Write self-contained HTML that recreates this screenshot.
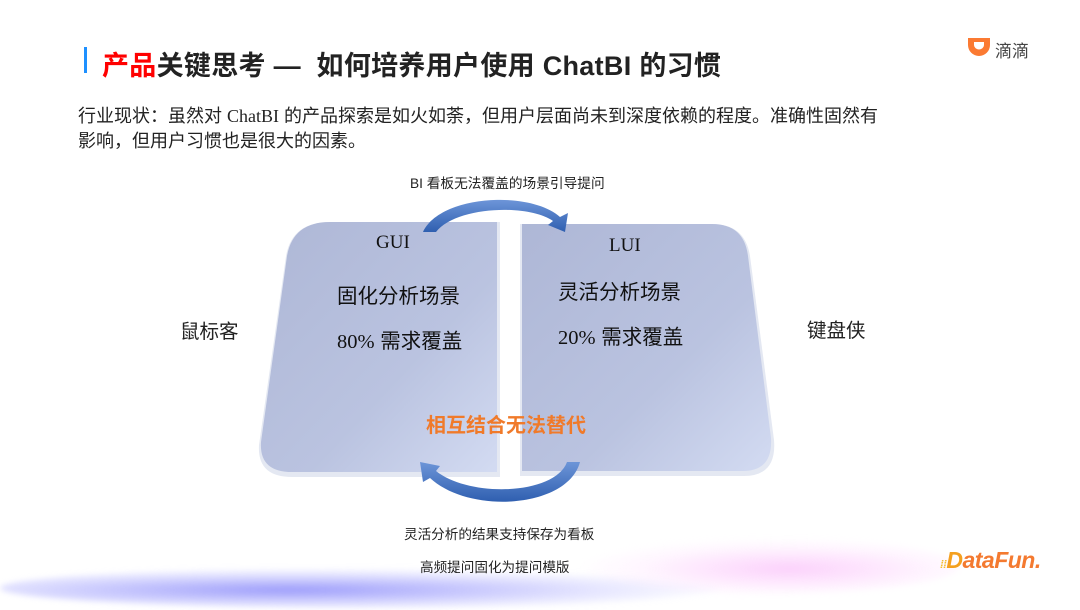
<!DOCTYPE html>
<html><head><meta charset="utf-8"><style>
html,body{margin:0;padding:0}
body{width:1080px;height:608px;position:relative;overflow:hidden;background:#fff;font-family:"Liberation Sans","Noto Sans CJK SC",sans-serif}
.t{position:absolute;white-space:nowrap}
</style></head><body>
<div style="position:absolute;left:0;top:560px;width:1080px;height:50px;">
  <div style="position:absolute;left:0;top:8px;width:720px;height:40px;border-radius:50%;background:radial-gradient(ellipse at 40% 55%,rgba(140,140,250,0.85),rgba(190,190,255,0.4) 50%,rgba(255,255,255,0) 72%);filter:blur(3px)"></div>
  <div style="position:absolute;left:580px;top:-22px;width:380px;height:56px;border-radius:50%;background:radial-gradient(ellipse at 55% 55%,rgba(250,190,250,0.7),rgba(255,225,255,0.3) 50%,rgba(255,255,255,0) 72%);filter:blur(3px)"></div>
</div>
<div style="position:absolute;left:84px;top:47px;width:3px;height:26px;background:#1e90ff"></div>
<div class="t" style="left:102px;top:44px;font-size:27px;font-weight:bold;color:#222;letter-spacing:0.3px"><span style="color:#f00">产品</span>关键思考 —&nbsp; 如何培养用户使用 ChatBI 的习惯</div>
<div class="t" style="left:78px;top:104px;font-size:18px;color:#222;line-height:25px">行业现状：虽然对 <span style="font-family:'Liberation Serif',serif">ChatBI</span> 的产品探索是如火如荼，但用户层面尚未到深度依赖的程度。准确性固然有<br>影响，但用户习惯也是很大的因素。</div>
<svg style="position:absolute;left:966px;top:36px" width="26" height="22" viewBox="0 0 26 22"><path d="M2 2 H24 V9 A11 11 0 0 1 2 9 Z M8 6 V9 A5 4.5 0 0 0 18 9 V6 Z" fill="#fb7a32" fill-rule="evenodd"/></svg>
<div class="t" style="left:995px;top:37px;font-size:17px;color:#444">滴滴</div>
<svg style="position:absolute;left:0;top:0" width="1080" height="608">
<defs>
<linearGradient id="g" x1="0" y1="0" x2="1" y2="1"><stop offset="0" stop-color="#aeb7d6"/><stop offset="0.6" stop-color="#bac3e0"/><stop offset="1" stop-color="#d3dbf2"/></linearGradient>
<linearGradient id="a" x1="0" y1="0" x2="0" y2="1"><stop offset="0" stop-color="#6d95d8"/><stop offset="1" stop-color="#2f5fb0"/></linearGradient>
</defs>
<path d="M330,222 L500,222 L500,477 L292,477 Q257,477 259,445 L286,256 Q292,222 330,222 Z" fill="#e4e8f2"/>
<path d="M330,222 L497,222 L497,472 L292,472 Q259,472 261,442 L287,256 Q293,222 330,222 Z" fill="url(#g)"/>
<path d="M520,224 L712,224 Q745,224 750,256 L774,440 Q777,476 744,476 L520,476 Z" fill="#e4e8f2"/>
<path d="M522,224 L712,224 Q744,224 748,256 L771,438 Q773,471 743,471 L522,471 Z" fill="url(#g)"/>
<path d="M423,232 C440,195 530,190 560,217 L568,213 L565,232 L548,225 L553,221 C527,203 455,207 436,232 Z" fill="url(#a)"/>
<path d="M580,462 C568,508 470,515 430,478 L423,482 L420,462 L440,466 L436,471 C470,498 555,495 567,462 Z" fill="url(#a)"/>
</svg>
<div class="t" style="left:410px;top:172px;font-size:13.7px;color:#222">BI 看板无法覆盖的场景引导提问</div>
<div class="t" style="left:376px;top:232px;font-size:19px;color:#111;font-family:'Liberation Serif',serif">GUI</div>
<div class="t" style="left:609px;top:235px;font-size:19px;color:#111;font-family:'Liberation Serif',serif">LUI</div>
<div class="t" style="left:337px;top:279px;font-size:20.5px;color:#111">固化分析场景</div>
<div class="t" style="left:337px;top:324px;font-size:20.5px;color:#111"><span style="font-family:'Liberation Serif',serif">80%</span> 需求覆盖</div>
<div class="t" style="left:558px;top:275px;font-size:20.5px;color:#111">灵活分析场景</div>
<div class="t" style="left:558px;top:320px;font-size:20.5px;color:#111"><span style="font-family:'Liberation Serif',serif">20%</span> 需求覆盖</div>
<div class="t" style="left:426px;top:409px;font-size:20px;color:#f07a2a;font-weight:bold">相互结合无法替代</div>
<div class="t" style="left:180px;top:315px;font-size:19.5px;color:#222">鼠标客</div>
<div class="t" style="left:807px;top:314px;font-size:19.5px;color:#222">键盘侠</div>
<div class="t" style="left:404px;top:523px;font-size:13.6px;color:#222">灵活分析的结果支持保存为看板</div>
<div class="t" style="left:420px;top:556px;font-size:13.6px;color:#222">高频提问固化为提问模版</div>
<div class="t" style="left:940px;top:547px;font-size:23px;font-weight:bold;font-style:italic;color:#f4a020;letter-spacing:-0.5px"><span style="font-size:11px;color:#f4c030">⁞⁞</span>D<span style="color:#f47a30">ataFun.</span></div>
</body></html>
